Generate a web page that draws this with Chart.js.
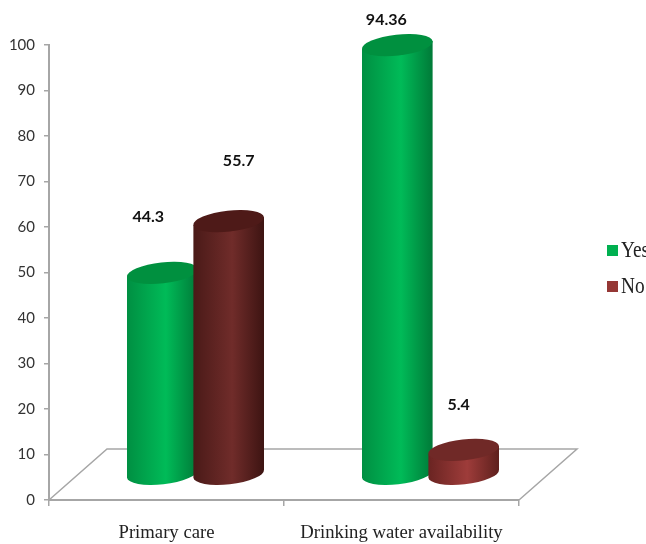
<!DOCTYPE html>
<html>
<head>
<meta charset="utf-8">
<style>
  html, body { margin: 0; padding: 0; background: #fff; overflow: hidden; }
  canvas { display: block; }
</style>
<script src="https://cdn.jsdelivr.net/npm/chart.js@4/dist/chart.umd.min.js"></script>
</head>
<body>
<canvas id="chart" width="646" height="544"></canvas>
<script>
const categories = ['Primary care', 'Drinking water availability'];
const yesValues = [44.3, 94.36];
const noValues = [55.7, 5.4];
const yesLabels = ['44.3', '94.36'];
const noLabels = ['55.7', '5.4'];
const yTicks = [0, 10, 20, 30, 40, 50, 60, 70, 80, 90, 100];

// Shading per cylinder: [left edge, right edge, centre, top cap]
const yesShades = [
  ['#008f42', '#007a38', '#00bb58', '#00903f'],
  ['#008f42', '#007a38', '#00bb58', '#00903f']
];
const noShades = [
  ['#4a1a18', '#3d1412', '#702c2a', '#4e1a18'],
  ['#6a2422', '#5e201d', '#9e3c3a', '#702927']
];
const legendColors = { Yes: '#00b050', No: '#953735' };

const AXIS_GREY = '#a6a6a6';
const FLOOR_DX = 58, FLOOR_DY = 51, CAP_RY = 10.5, TILT = 0.11;

// Per-bar nudge of the value labels relative to the cylinder top: [dx, dy]
const yesLabelNudge = [[-14, -56], [-11, -25]];
const noLabelNudge = [[10, -60], [-5, -45]];

function drawFloor(chart) {
  const { ctx, chartArea: a } = chart;
  ctx.save();
  ctx.strokeStyle = AXIS_GREY;
  ctx.lineWidth = 1.5;
  ctx.beginPath();
  ctx.moveTo(a.left, a.bottom);
  ctx.lineTo(a.left + FLOOR_DX, a.bottom - FLOOR_DY);
  ctx.lineTo(a.right + FLOOR_DX, a.bottom - FLOOR_DY);
  ctx.lineTo(a.right, a.bottom);
  ctx.stroke();
  ctx.restore();
}

function drawCylinder(ctx, bar, shades, floorDx, floorDy) {
  const cx = bar.x + floorDx;
  const rx = bar.width / 2;
  const topY = bar.y - floorDy;
  const baseY = bar.base - floorDy;
  const dx = rx * Math.cos(TILT), dy = rx * Math.sin(TILT);

  const grad = ctx.createLinearGradient(cx - dx, 0, cx + dx, 0);
  grad.addColorStop(0, shades[0]);
  grad.addColorStop(0.55, shades[2]);
  grad.addColorStop(1, shades[1]);

  ctx.save();
  ctx.beginPath();
  ctx.moveTo(cx - dx, topY + dy);
  ctx.lineTo(cx - dx, baseY + dy);
  ctx.ellipse(cx, baseY, rx, CAP_RY, -TILT, Math.PI, 0, true);
  ctx.lineTo(cx + dx, topY - dy);
  ctx.closePath();
  ctx.fillStyle = grad;
  ctx.fill();

  ctx.beginPath();
  ctx.ellipse(cx, topY, rx, CAP_RY, -TILT, 0, Math.PI * 2);
  ctx.fillStyle = shades[3];
  ctx.fill();
  ctx.restore();
}

// Replaces the flat bar rectangles with shaded cylinders standing mid-depth on the floor.
// Series are painted in order so that "No" overlaps "Yes".
const cylinderBars = {
  id: 'cylinderBars',
  beforeDatasetsDraw(chart) {
    drawFloor(chart);
    chart.data.datasets.forEach((ds, d) => {
      chart.getDatasetMeta(d).data.forEach((bar, i) => {
        drawCylinder(chart.ctx, bar, ds.shades[i], FLOOR_DX / 2, FLOOR_DY / 2);
      });
    });
  },
  beforeDatasetDraw() { return false; },
  afterDatasetsDraw(chart) {
    const ctx = chart.ctx;
    ctx.save();
    ctx.font = 'bold 16px Lato';
    ctx.fillStyle = '#111';
    ctx.textAlign = 'center';
    ctx.textBaseline = 'middle';
    chart.data.datasets.forEach((ds, d) => {
      chart.getDatasetMeta(d).data.forEach((bar, i) => {
        const [nx, ny] = ds.labelNudge[i];
        ctx.fillText(ds.valueLabels[i], bar.x + FLOOR_DX / 2 + nx, bar.y - FLOOR_DY / 2 + ny);
      });
    });
    ctx.restore();
  }
};

// Compact legend with a small gap between swatch and text, running up to the canvas edge
const sideLegend = {
  id: 'sideLegend',
  afterDraw(chart) {
    const ctx = chart.ctx;
    ctx.save();
    ctx.textBaseline = 'middle';
    chart.data.datasets.forEach((ds, i) => {
      const y = 250 + i * 36;
      ctx.fillStyle = legendColors[ds.label];
      ctx.fillRect(607, y - 5, 11, 11);
      ctx.fillStyle = '#222';
      ctx.save();
      ctx.translate(621, y + 1);
      ctx.scale(0.84, 1);
      ctx.font = '23px "Liberation Serif"';
      ctx.fillText(ds.label, 0, 0);
      ctx.restore();
    });
    ctx.restore();
  }
};

new Chart(document.getElementById('chart'), {
  type: 'bar',
  plugins: [cylinderBars, sideLegend],
  data: {
    labels: categories,
    datasets: [
      { label: 'Yes', data: yesValues, backgroundColor: '#00b050',
        shades: yesShades, valueLabels: yesLabels, labelNudge: yesLabelNudge },
      { label: 'No', data: noValues, backgroundColor: '#953735',
        shades: noShades, valueLabels: noLabels, labelNudge: noLabelNudge }
    ]
  },
  options: {
    responsive: false,
    animation: false,
    layout: { padding: { top: 45, right: 127, bottom: 0, left: 0 } },
    datasets: { bar: { categoryPercentage: 0.565, barPercentage: 1.07 } },
    plugins: { legend: { display: false }, tooltip: { enabled: false }, title: { display: false } },
    scales: {
      x: {
        afterFit(scale) { scale.height = 44; },
        border: { color: AXIS_GREY, width: 2 },
        grid: { drawOnChartArea: false, color: AXIS_GREY, tickLength: 6, lineWidth: 1.5 },
        ticks: {
          color: '#222', padding: 16, maxRotation: 0, autoSkip: false,
          font: { family: '"Liberation Serif"', size: 18.7 }
        }
      },
      y: {
        min: 0,
        max: 100,
        afterFit(scale) { scale.width = 49; },
        afterBuildTicks(scale) { scale.ticks = yTicks.map(value => ({ value })); },
        border: { color: AXIS_GREY, width: 2 },
        grid: { drawOnChartArea: false, color: AXIS_GREY, tickLength: 5, lineWidth: 1.5 },
        ticks: { color: '#333', padding: 9, font: { family: 'Lato', size: 15 } }
      }
    }
  }
});
</script>
</body>
</html>
